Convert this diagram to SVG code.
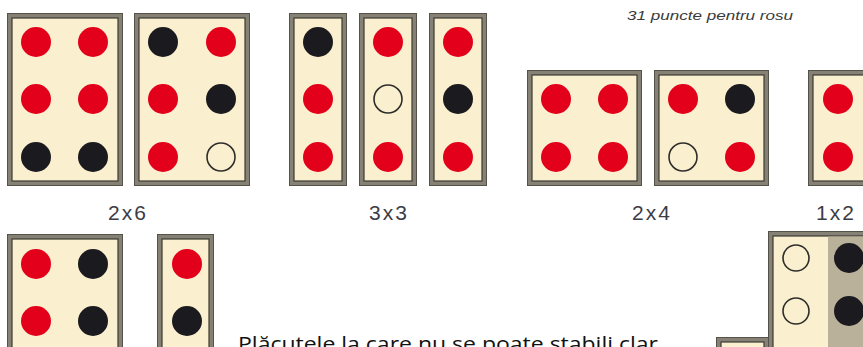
<svg xmlns="http://www.w3.org/2000/svg" width="863" height="347" viewBox="0 0 863 347">
<style>
.frame{fill:#858174;stroke:#55524a;stroke-width:1}
.face{fill:#faf0d0;stroke:#3d3b33;stroke-width:1.2}
.shade{fill:#bab19b}
.r{fill:#e2001a}
.b{fill:#1b1a1e}
.o{fill:#faf0d0;stroke:#2e2d29;stroke-width:1.6}
.lbl{font-family:"Liberation Sans",Arial,sans-serif;font-size:21px;fill:#3c3c46;text-anchor:middle;letter-spacing:2px}
</style>
<rect width="863" height="347" fill="#ffffff"/>

<g id="card1">
<rect class="frame" x="7.5" y="13.5" width="115" height="172"/>
<rect class="face" x="12" y="18" width="106" height="163"/>
<circle class="r" cx="36" cy="42" r="15"/><circle class="r" cx="93" cy="42" r="15"/>
<circle class="r" cx="36" cy="99" r="15"/><circle class="r" cx="93" cy="99" r="15"/>
<circle class="b" cx="36" cy="157" r="15"/><circle class="b" cx="93" cy="157" r="15"/>
</g>
<g id="card2">
<rect class="frame" x="134.5" y="13.5" width="115" height="172"/>
<rect class="face" x="139" y="18" width="106" height="163"/>
<circle class="b" cx="163" cy="42" r="15"/><circle class="r" cx="221" cy="42" r="15"/>
<circle class="r" cx="163" cy="99" r="15"/><circle class="b" cx="221" cy="99" r="15"/>
<circle class="r" cx="163" cy="157" r="15"/><circle class="o" cx="221" cy="157" r="14"/>
</g>
<g id="card3">
<rect class="frame" x="289.5" y="13.5" width="57" height="172"/>
<rect class="face" x="294" y="18" width="48" height="163"/>
<circle class="b" cx="318" cy="42" r="15"/><circle class="r" cx="318" cy="99" r="15"/><circle class="r" cx="318" cy="157" r="15"/>
</g>
<g id="card4">
<rect class="frame" x="359.5" y="13.5" width="57" height="172"/>
<rect class="face" x="364" y="18" width="48" height="163"/>
<circle class="r" cx="388" cy="42" r="15"/><circle class="o" cx="388" cy="99" r="14"/><circle class="r" cx="388" cy="157" r="15"/>
</g>
<g id="card5">
<rect class="frame" x="429.5" y="13.5" width="57" height="172"/>
<rect class="face" x="434" y="18" width="48" height="163"/>
<circle class="r" cx="458" cy="42" r="15"/><circle class="b" cx="458" cy="99" r="15"/><circle class="r" cx="458" cy="157" r="15"/>
</g>
<g id="card6">
<rect class="frame" x="527.5" y="70.5" width="114" height="115"/>
<rect class="face" x="532" y="75" width="105" height="106"/>
<circle class="r" cx="556" cy="99" r="15"/><circle class="r" cx="613" cy="99" r="15"/>
<circle class="r" cx="556" cy="157" r="15"/><circle class="r" cx="613" cy="157" r="15"/>
</g>
<g id="card7">
<rect class="frame" x="654.5" y="70.5" width="114" height="115"/>
<rect class="face" x="659" y="75" width="105" height="106"/>
<circle class="r" cx="683" cy="99" r="15"/><circle class="b" cx="740" cy="99" r="15"/>
<circle class="o" cx="683" cy="157" r="14"/><circle class="r" cx="740" cy="157" r="15"/>
</g>
<g id="card8">
<rect class="frame" x="808.5" y="70.5" width="60" height="115"/>
<rect class="face" x="813" y="75" width="51" height="106"/>
<circle class="r" cx="838" cy="99" r="15"/><circle class="r" cx="838" cy="157" r="15"/>
</g>

<g id="labels">
<text class="lbl" x="128" y="220">2x6</text>
<text class="lbl" x="389" y="220">3x3</text>
<text class="lbl" x="652" y="220">2x4</text>
<text class="lbl" x="836" y="220">1x2</text>
<text x="627" y="20" font-family="Liberation Sans,Arial,sans-serif" font-size="12" font-style="italic" fill="#3a3a3a" textLength="166" lengthAdjust="spacingAndGlyphs">31 puncte pentru rosu</text>
</g>

<g id="card9">
<rect class="frame" x="7.5" y="234.5" width="115" height="150"/>
<rect class="face" x="12" y="239" width="106" height="150"/>
<circle class="r" cx="36" cy="264" r="15"/><circle class="b" cx="93" cy="264" r="15"/>
<circle class="r" cx="36" cy="321" r="15"/><circle class="b" cx="93" cy="321" r="15"/>
</g>
<g id="card10">
<rect class="frame" x="157.5" y="234.5" width="56" height="150"/>
<rect class="face" x="162" y="239" width="47" height="150"/>
<circle class="r" cx="187" cy="264" r="15"/><circle class="b" cx="187" cy="321" r="15"/>
</g>
<g id="card11">
<rect class="frame" x="768.5" y="231.5" width="120" height="150"/>
<rect class="face" x="773" y="236" width="111" height="150"/>
<rect class="shade" x="828" y="236.6" width="56" height="150"/>
<circle class="o" cx="796" cy="258" r="13"/><circle class="b" cx="849" cy="258" r="15"/>
<circle class="o" cx="796" cy="311" r="13"/><circle class="b" cx="849" cy="311" r="15"/>
</g>
<g id="card12">
<rect class="frame" x="716.5" y="337.5" width="52" height="40"/>
<rect class="face" x="721" y="342" width="43" height="40"/>
</g>

<text x="238" y="351" font-family="Open Sans,Liberation Sans,sans-serif" font-size="20" fill="#111111" textLength="420" lengthAdjust="spacingAndGlyphs">Plăcutele la care nu se poate stabili clar</text>
<g id="connectors"/>
</svg>
